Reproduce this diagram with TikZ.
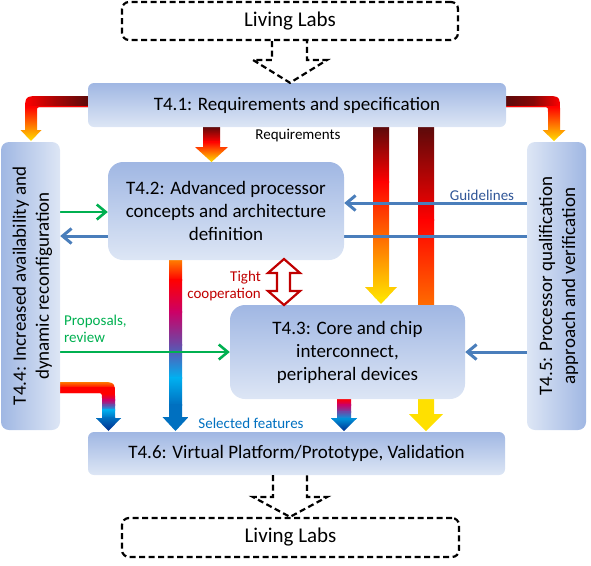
\documentclass[tikz,border=0pt]{standalone}
\usepackage{fontspec}
\setmainfont{Carlito}
\usetikzlibrary{arrows.meta}
\pgfdeclarelayer{bg}
\pgfsetlayers{bg,main}
\definecolor{boxtop}{HTML}{A0B7E3}
\definecolor{boxbot}{HTML}{DDE6F5}
\definecolor{dr}{HTML}{5C0A0A}
\definecolor{rd}{HTML}{FF0000}
\definecolor{yl}{HTML}{FFE000}
\definecolor{og}{HTML}{FF7F00}
\definecolor{mg}{HTML}{CC0066}
\definecolor{pu}{HTML}{6A4AA8}
\definecolor{cy}{HTML}{00B0F0}
\definecolor{bl}{HTML}{0070C0}
\definecolor{nv}{HTML}{00288A}
\definecolor{lineblue}{HTML}{4A7EBB}
\definecolor{gr}{HTML}{00B050}
\definecolor{guideblue}{HTML}{2F5597}
\definecolor{tightred}{HTML}{C00000}
\newcommand{\bigf}{\fontsize{19}{23}\selectfont}
\newcommand{\llf}{\fontsize{21}{25}\selectfont}
\newcommand{\smf}{\fontsize{15}{17.5}\selectfont}
\newcommand{\vs}[4]{\shade[top color=#3,bottom color=#4] (0,#1-0.4) rectangle (591,#2);}
\begin{document}
\begin{tikzpicture}[x=1pt,y=-1pt,
  boxbase/.style={shade, inner sep=0pt, align=center, font=\bigf, text=black},
  box/.style={boxbase, top color=boxtop, bottom color=boxbot},
  vboxl/.style={boxbase, left color=boxtop, right color=boxbot},
  vboxr/.style={boxbase, left color=boxbot, right color=boxtop},
  llbox/.style={draw=black, fill=white, line width=2.2pt, dash pattern=on 6pt off 3.5pt, rounded corners=7pt, font=\llf, inner sep=0pt},
  dasharrow/.style={draw=black, line width=2.2pt, dash pattern=on 6pt off 3.5pt},
  bluearrow/.style={draw=lineblue, line width=3pt, -{Straight Barb[length=9pt,width=15pt]}},
  greenarrow/.style={draw=gr, line width=2.6pt, -{Straight Barb[length=9pt,width=15pt]}},
  lbl/.style={font=\smf, inner sep=0pt}]
\useasboundingbox (0,0) rectangle (591,565);

% boxes
\node[box, rounded corners=6pt, minimum width=418pt, minimum height=44pt] (t41) at (297,105) {T4.1: Requirements and specification};
\node[box, rounded corners=15pt, minimum width=236pt, minimum height=98pt] (t42) at (226,211) {T4.2: Advanced processor\\concepts and architecture\\definition};
\node[box, rounded corners=15pt, minimum width=235pt, minimum height=94pt] (t43) at (347.5,352) {T4.3: Core and chip\\interconnect,\\peripheral devices};
\node[vboxl, rounded corners=8pt, minimum width=59pt, minimum height=288pt] (t44) at (30.5,286) {};
\node[rotate=90, font=\bigf, align=center, inner sep=0pt] (t44t) at (32.5,286) {T4.4: Increased availability and\\dynamic reconfiguration};
\node[vboxr, rounded corners=8pt, minimum width=59pt, minimum height=288pt] (t45) at (556.5,286) {};
\node[rotate=90, font=\bigf, align=center, inner sep=0pt] (t45t) at (558.5,286) {T4.5: Processor qualification\\approach and verification};
\node[box, rounded corners=6pt, minimum width=417pt, minimum height=43pt] (t46) at (296.5,453.5) {T4.6: Virtual Platform/Prototype, Validation};
\node[llbox, minimum width=336pt, minimum height=38pt] (ll1) at (290,21) {Living Labs};
\node[llbox, minimum width=337pt, minimum height=39pt] (ll2) at (290.5,537.5) {Living Labs};

% labels
\node[lbl, text=black] (lreq) at (298,136) {Requirements};
\node[lbl, text=guideblue] (lguide) at (482,195) {Guidelines};
\node[lbl, text=bl] (lsel) at (251,423) {Selected features};
\node[lbl, text=gr, align=left, anchor=west] (lprop) at (64,329) {Proposals,\\review};
\node[lbl, text=tightred, align=right, anchor=east] (ltight) at (261,286) {Tight\\cooperation};

% tight cooperation double arrow
\draw[draw=tightred, fill=white, line width=2.2pt, line join=miter] (284,259) -- (300,273) -- (290,273) -- (290,291) -- (300,291) -- (284,305) -- (268,291) -- (277,291) -- (277,273) -- (268,273) -- cycle;

% dashed arrows Living Labs
\draw[dasharrow] (ll1.south -| 272,0) -- (272,60) -- (253,60) -- (t41.north -| 290,0) -- (327,60) -- (307,60) -- (ll1.south -| 307,0);
\draw[dasharrow] (t46.south -| 273,0) -- (273,497) -- (253,497) -- (ll2.north -| 290,0) -- (327,497) -- (307,497) -- (t46.south -| 307,0);

\begin{pgfonlayer}{bg}
% A: T4.1 -> T4.2
\begin{scope}
\clip (203,127) -- (220,127) -- (220,147) -- (228,147) -- (211.5,162) -- (195,147) -- (203,147) -- cycle;
\vs{127}{142}{dr}{rd}
\vs{142}{162}{rd}{yl}
\end{scope}
% B: T4.1 -> T4.3
\begin{scope}
\clip (373,127) -- (389,127) -- (389,287) -- (397,287) -- (381,304) -- (365,287) -- (373,287) -- cycle;
\vs{127}{182}{dr}{rd}
\vs{182}{298}{rd}{yl}
\vs{298}{305}{yl}{yl}
\end{scope}
% C: T4.1 -> T4.6
\begin{scope}
\clip (418,127) -- (434,127) -- (434,414) -- (443,414) -- (426,431) -- (409,414) -- (418,414) -- cycle;
\vs{127}{220}{dr}{rd}
\vs{220}{398}{rd}{yl}
\vs{398}{432}{yl}{yl}
\end{scope}
% D: T4.2 -> T4.6
\begin{scope}
\clip (169,260) -- (182,260) -- (182,417) -- (188.5,417) -- (175.5,431) -- (162.5,417) -- (169,417) -- cycle;
\vs{260}{280}{og}{rd}
\vs{280}{312}{rd}{mg}
\vs{312}{345}{mg}{pu}
\vs{345}{378}{pu}{cy}
\vs{378}{405}{cy}{bl}
\vs{405}{432}{bl}{bl}
\end{scope}
% E: T4.3 -> T4.6
\begin{scope}
\clip (337,399) -- (351,399) -- (351,418) -- (357,418) -- (344,431) -- (331,418) -- (337,418) -- cycle;
\vs{399}{405}{rd}{mg}
\vs{405}{412}{mg}{pu}
\vs{412}{419}{pu}{cy!70!bl}
\vs{419}{432}{cy!50!bl}{nv}
\end{scope}
% G: T4.4 -> T4.6
\begin{scope}
\clip (60,382) -- (100,382) .. controls (115,382) .. (115,397) -- (115,418) -- (121,418) -- (108.5,431) -- (96,418) -- (102,418) -- (102,398) .. controls (102,393) .. (97,393) -- (60,393) -- cycle;
\vs{382}{388}{og}{rd}
\vs{388}{394}{rd}{rd}
\vs{394}{400}{rd}{mg}
\vs{400}{405}{mg}{pu}
\vs{405}{410}{pu}{cy}
\vs{410}{418}{cy}{bl}
\vs{418}{432}{bl}{nv}
\end{scope}
% T4.1 -> T4.4 bent
\begin{scope}
\clip (88,96) -- (41,96) .. controls (25,96) .. (25,112) -- (25,130) -- (20.5,130) -- (31,141) -- (41.5,130) -- (37,130) -- (37,112) .. controls (37,107) .. (42,107) -- (88,107) -- cycle;
\shade[left color=rd, right color=dr, middle color=dr!55!rd] (25,90) rectangle (88,107.4);
\vs{107}{141}{rd}{yl}
\end{scope}
% T4.1 -> T4.5 bent
\begin{scope}
\clip (506,96) -- (545,96) .. controls (560,96) .. (560,111) -- (560,130) -- (565.5,130) -- (554,141) -- (542.5,130) -- (548,130) -- (548,112) .. controls (548,107) .. (543,107) -- (506,107) -- cycle;
\shade[left color=dr, right color=rd, middle color=dr!75!rd] (506,90) rectangle (560,107.4);
\vs{107}{141}{rd}{yl}
\end{scope}
% thin connectors
\draw[bluearrow] (t45.west |- 0,203) -- (t42.east |- 0,203);
\draw[bluearrow] (t45.west |- 0,236) -- (t44.east |- 0,236);
\draw[bluearrow] (t45.west |- 0,352) -- (t43.east |- 0,352);
\draw[greenarrow] (t44.east |- 0,212) -- (t42.west |- 0,212);
\draw[greenarrow] (t44.east |- 0,352) -- (t43.west |- 0,352);
\end{pgfonlayer}
\end{tikzpicture}
\end{document}
